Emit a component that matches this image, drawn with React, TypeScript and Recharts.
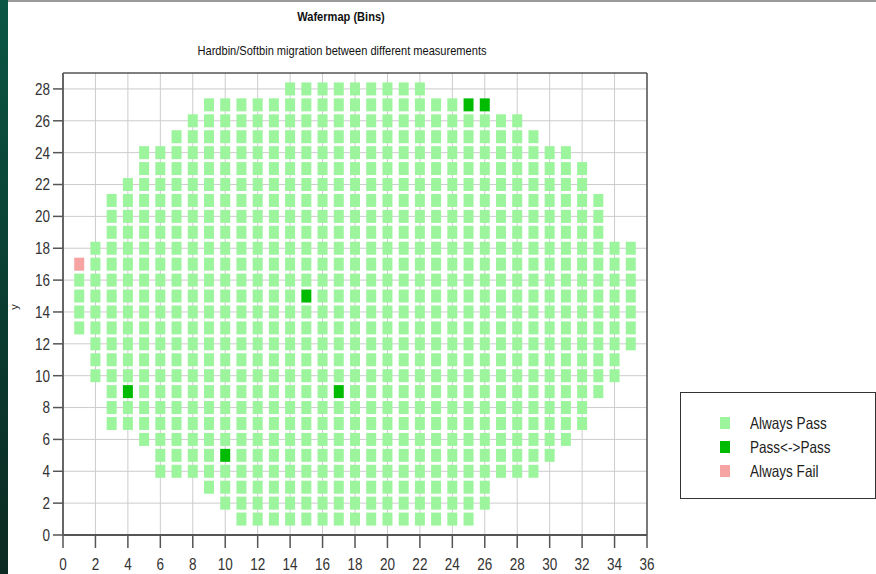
import { ScatterChart, Scatter, XAxis, YAxis, CartesianGrid, ReferenceLine } from 'recharts';

// wafer columns (x) and the lowest / highest die row in each column
const columns = [1, 2, 3, 4, 5, 6, 7, 8, 9, 10, 11, 12, 13, 14, 15, 16, 17, 18, 19, 20, 21, 22, 23, 24, 25, 26, 27, 28, 29, 30, 31, 32, 33, 34, 35];
const colBottom = [13, 10, 7, 7, 6, 4, 4, 4, 3, 2, 1, 1, 1, 1, 1, 1, 1, 1, 1, 1, 1, 1, 1, 1, 1, 2, 4, 4, 4, 5, 6, 7, 9, 10, 12];
const colTop = [17, 18, 21, 22, 24, 24, 25, 26, 27, 27, 27, 27, 27, 28, 28, 28, 28, 28, 28, 28, 28, 28, 27, 27, 27, 27, 26, 26, 25, 24, 24, 23, 21, 18, 18];

// dies that are not "Always Pass"
const passPassDies = [
  { x: 4, y: 9 },
  { x: 10, y: 5 },
  { x: 15, y: 15 },
  { x: 17, y: 9 },
  { x: 25, y: 27 },
  { x: 26, y: 27 },
];
const alwaysFailDies = [{ x: 1, y: 17 }];

const xTicks = [0, 2, 4, 6, 8, 10, 12, 14, 16, 18, 20, 22, 24, 26, 28, 30, 32, 34, 36];
const yTicks = [0, 2, 4, 6, 8, 10, 12, 14, 16, 18, 20, 22, 24, 26, 28];

const COLORS = {
  alwaysPass: '#9cf59c',
  passPass: '#00bb00',
  alwaysFail: '#f5a3a3',
};

const special = [...passPassDies, ...alwaysFailDies];
const alwaysPassDies: { x: number; y: number }[] = [];
columns.forEach((x, i) => {
  for (let y = colBottom[i]; y <= colTop[i]; y++) {
    if (!special.some((d) => d.x === x && d.y === y)) alwaysPassDies.push({ x, y });
  }
});

const FONT = "'Liberation Sans', Arial, sans-serif";
// the original uses a condensed face, squeeze the regular one
const SQUEEZE = 0.82;

const Die = (props: any) => {
  const { cx, cy, fill } = props;
  return <rect x={cx - 5} y={cy - 6.5} width={10} height={13} fill={fill} />;
};

const XTick = (props: any) => {
  const { x, y, payload } = props;
  return (
    <g transform={`translate(${x},${y})`}>
      <text transform={`scale(${SQUEEZE},1)`} textAnchor="middle" dy="0.71em" fontSize={16.5} fontFamily={FONT} fill="#333">
        {payload.value}
      </text>
    </g>
  );
};

const YTick = (props: any) => {
  const { x, y, payload } = props;
  return (
    <g transform={`translate(${x},${y})`}>
      <text transform={`scale(${SQUEEZE},1)`} textAnchor="end" dy="0.355em" fontSize={16.5} fontFamily={FONT} fill="#333">
        {payload.value}
      </text>
    </g>
  );
};

const squeezed = { transform: `scaleX(${SQUEEZE})`, transformOrigin: 'left center', whiteSpace: 'nowrap' as const };

function LegendBox() {
  const items = [
    { label: 'Always Pass', color: COLORS.alwaysPass },
    { label: 'Pass<->Pass', color: COLORS.passPass },
    { label: 'Always Fail', color: COLORS.alwaysFail },
  ];
  return (
    <div
      style={{
        position: 'absolute',
        left: 680,
        top: 392,
        width: 194,
        height: 105,
        border: '1px solid #333',
        background: '#fff',
        fontFamily: FONT,
        fontSize: 16.5,
        color: '#222',
      }}
    >
      {items.map((it, i) => (
        <div key={it.label} style={{ position: 'absolute', left: 39, top: 19 + i * 24, height: 22, display: 'flex', alignItems: 'center' }}>
          <div style={{ width: 10, height: 12, background: it.color }} />
          <span style={{ marginLeft: 20, display: 'inline-block', ...squeezed }}>{it.label}</span>
        </div>
      ))}
    </div>
  );
}

export default function App() {
  return (
    <div style={{ position: 'absolute', left: 0, top: 0, width: 876, height: 574, background: '#fff', overflow: 'hidden' }}>
      <div style={{ position: 'absolute', left: 0, top: 0, width: 8, height: 574, background: 'linear-gradient(#0b5644, #0a3a2e 60%, #0d2a22)' }} />
      <div style={{ position: 'absolute', left: 8, top: 0, width: 868, height: 2, background: '#9a9a9a' }} />
      <div style={{ position: 'absolute', left: 0, width: 682, top: 9, textAlign: 'center', fontFamily: FONT, fontWeight: 'bold', fontSize: 13.5, color: '#111', transform: `scaleX(${SQUEEZE})` }}>
        Wafermap (Bins)
      </div>
      <div style={{ position: 'absolute', left: 0, width: 684, top: 43, textAlign: 'center', fontFamily: FONT, fontSize: 13.5, color: '#111', transform: `scaleX(${SQUEEZE})` }}>
        Hardbin/Softbin migration between different measurements
      </div>
      <div style={{ position: 'absolute', left: 11, top: 301, fontFamily: FONT, fontSize: 11, color: '#222', transform: 'rotate(-90deg)' }}>
        y
      </div>
      <div style={{ position: 'absolute', left: 0, top: 0 }}>
        <ScatterChart width={660} height={574} margin={{ top: 73, right: 13, bottom: 0, left: 3 }}>
          <CartesianGrid stroke="#cccccc" strokeWidth={1} horizontalValues={yTicks} verticalValues={xTicks} />
          <XAxis
            type="number"
            dataKey="x"
            domain={[0, 36]}
            ticks={xTicks}
            interval={0}
            height={39}
            tickSize={13}
            tickMargin={10}
            stroke="#555"
            strokeWidth={2}
            tick={<XTick />}
            tickLine={{ stroke: '#555', strokeWidth: 1.5 }}
          />
          <YAxis
            type="number"
            dataKey="y"
            domain={[0, 29]}
            ticks={yTicks}
            interval={0}
            width={60}
            tickSize={10}
            tickMargin={3}
            stroke="#666"
            strokeWidth={2}
            tick={<YTick />}
            tickLine={{ stroke: '#555', strokeWidth: 1.5 }}
          />
          <ReferenceLine y={29} stroke="#555" strokeWidth={1.5} />
          <ReferenceLine x={36} stroke="#555" strokeWidth={1.5} />
          <Scatter name="Always Pass" data={alwaysPassDies} fill={COLORS.alwaysPass} shape={Die} isAnimationActive={false} />
          <Scatter name="Pass<->Pass" data={passPassDies} fill={COLORS.passPass} shape={Die} isAnimationActive={false} />
          <Scatter name="Always Fail" data={alwaysFailDies} fill={COLORS.alwaysFail} shape={Die} isAnimationActive={false} />
        </ScatterChart>
      </div>
      <LegendBox />
    </div>
  );
}
